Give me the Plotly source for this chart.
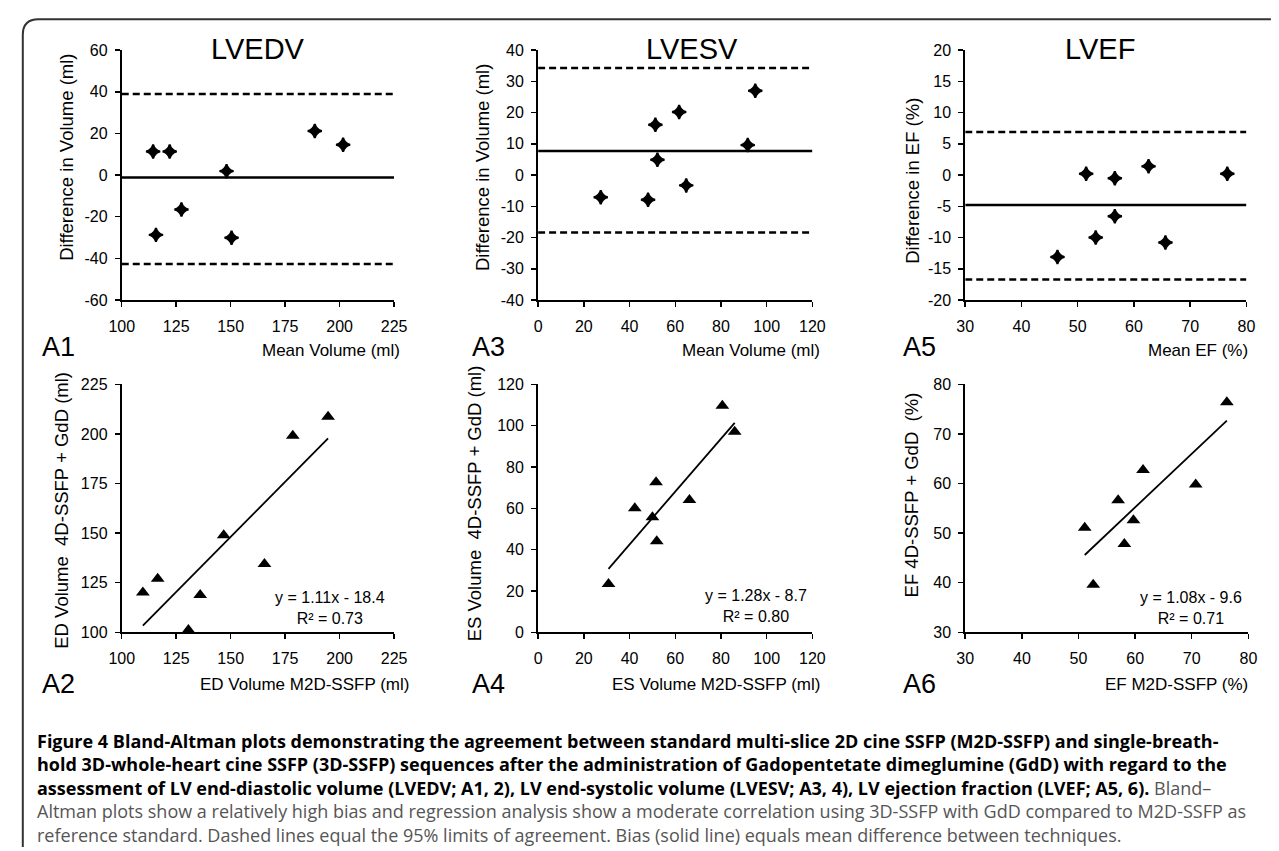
import plotly.graph_objects as go
from plotly.subplots import make_subplots

W, H = 1279, 851

# ---------------- data ----------------
# Bland-Altman: LVEDV
edv_mean = [114.4, 122.0, 115.7, 127.4, 148.1, 150.4, 188.6, 201.6]
edv_diff = [11.3, 11.3, -28.7, -16.5, 1.9, -30.1, 21.2, 14.6]
edv_limits = [-1.1, 38.9, -42.7]          # bias, upper, lower
# Bland-Altman: LVESV
esv_mean = [27.4, 48.1, 51.3, 52.2, 61.7, 64.8, 91.7, 95.0]
esv_diff = [-7.1, -7.9, 16.1, 4.9, 20.2, -3.3, 9.6, 27.0]
esv_limits = [7.7, 34.3, -18.4]
# Bland-Altman: LVEF
ef_mean = [46.4, 51.5, 53.2, 56.6, 56.6, 62.6, 65.6, 76.6]
ef_diff = [-13.1, 0.2, -10.0, -0.5, -6.6, 1.4, -10.8, 0.2]
ef_limits = [-4.8, 6.9, -16.7]

# Regression: M2D-SSFP (x) vs 4D-SSFP + GdD (y)
edv_m2d = [194.7, 178.5, 146.8, 165.5, 116.5, 109.7, 136.0, 130.6]
edv_4d = [208.7, 199.1, 148.9, 134.4, 127.0, 120.1, 118.8, 101.1]
esv_m2d = [80.6, 86.0, 51.6, 66.2, 42.3, 50.0, 51.9, 30.8]
esv_4d = [109.6, 97.0, 72.6, 64.0, 60.0, 55.7, 44.0, 23.4]
ef_m2d = [76.2, 61.4, 70.7, 57.0, 51.1, 59.7, 58.1, 52.6]
ef_4d = [76.4, 62.7, 59.8, 56.6, 51.1, 52.6, 47.8, 39.6]

slopes = [1.11, 1.28, 1.08]
intercepts = [-18.4, -8.7, -9.6]
r2 = [0.73, 0.80, 0.71]
eq_texts = ["y = 1.11x - 18.4<br>R² = 0.73", "y = 1.28x - 8.7<br>R² = 0.80",
            "y = 1.08x - 9.6<br>R² = 0.71"]

titles = ["LVEDV", "LVESV", "LVEF"]
panel_labels_top = ["A1", "A3", "A5"]
panel_labels_bot = ["A2", "A4", "A6"]
xtitles_top = ["Mean Volume (ml)", "Mean Volume (ml)", "Mean EF (%)"]
ytitles_top = ["Difference in Volume (ml)", "Difference in Volume (ml)", "Difference in EF (%)"]
xtitles_bot = ["ED Volume M2D-SSFP (ml)", "ES Volume M2D-SSFP (ml)", "EF M2D-SSFP (%)"]
ytitles_bot = ["ED Volume  4D-SSFP + GdD (ml)", "ES Volume  4D-SSFP + GdD (ml)", "EF 4D-SSFP + GdD  (%)"]

# axis ticks
top_xticks = [[100, 125, 150, 175, 200, 225], [0, 20, 40, 60, 80, 100, 120], [30, 40, 50, 60, 70, 80]]
top_yticks = [[-60, -40, -20, 0, 20, 40, 60], [-40, -30, -20, -10, 0, 10, 20, 30, 40],
              [-20, -15, -10, -5, 0, 5, 10, 15, 20]]
bot_xticks = [[100, 125, 150, 175, 200, 225], [0, 20, 40, 60, 80, 100, 120], [30, 40, 50, 60, 70, 80]]
bot_yticks = [[100, 125, 150, 175, 200, 225], [0, 20, 40, 60, 80, 100, 120], [30, 40, 50, 60, 70, 80]]

GRAY = "#555555"
caption_lines = [
    "<b>Figure 4 Bland-Altman plots demonstrating the agreement between standard multi-slice 2D cine SSFP (M2D-SSFP) and single-breath-</b>",
    "<b>hold 3D-whole-heart cine SSFP (3D-SSFP) sequences after the administration of Gadopentetate dimeglumine (GdD) with regard to the</b>",
    "<b>assessment of LV end-diastolic volume (LVEDV; A1, 2), LV end-systolic volume (LVESV; A3, 4), LV ejection fraction (LVEF; A5, 6).</b>"
    f"<span style='color:{GRAY}'> Bland–</span>",
    f"<span style='color:{GRAY}'>Altman plots show a relatively high bias and regression analysis show a moderate correlation using 3D-SSFP with GdD compared to M2D-SSFP as</span>",
    f"<span style='color:{GRAY}'>reference standard. Dashed lines equal the 95% limits of agreement. Bias (solid line) equals mean difference between techniques.</span>",
]

# ---------------- layout geometry (pixels) ----------------
px_x_top = [(111, 389), (536, 816), (972, 1259)]
px_x_bot = [(111, 389), (536, 816), (972, 1261)]
px_y_top = (43, 298)
px_y_bot = (384, 637)


def fx(p):
    return p / W


def fy(p):
    return 1 - p / H


FONT = "Liberation Sans, Arial, sans-serif"

fig = make_subplots(rows=2, cols=3)

ba_x = [edv_mean, esv_mean, ef_mean]
ba_y = [edv_diff, esv_diff, ef_diff]
ba_lim = [edv_limits, esv_limits, ef_limits]
rg_x = [edv_m2d, esv_m2d, ef_m2d]
rg_y = [edv_4d, esv_4d, ef_4d]

for i in range(3):
    col = i + 1
    xr = [top_xticks[i][0], top_xticks[i][-1]]
    bias, up, lo = ba_lim[i]
    # limits of agreement (dashed)
    for val in (up, lo):
        fig.add_trace(go.Scatter(x=xr, y=[val, val], mode="lines",
                                 line=dict(color="black", width=2.5, dash="7px,4px"),
                                 showlegend=False, hoverinfo="skip"), row=1, col=col)
    fig.add_trace(go.Scatter(x=xr, y=[bias, bias], mode="lines",
                             line=dict(color="black", width=2.5),
                             showlegend=False, hoverinfo="skip"), row=1, col=col)
    fig.add_trace(go.Scatter(x=ba_x[i], y=ba_y[i], mode="markers",
                             marker=dict(symbol="star-diamond", size=10, color="black",
                                         line=dict(width=2, color="black")),
                             cliponaxis=False, showlegend=False), row=1, col=col)
    # regression
    xmin, xmax = min(rg_x[i]), max(rg_x[i])
    fig.add_trace(go.Scatter(x=[xmin, xmax],
                             y=[slopes[i] * xmin + intercepts[i], slopes[i] * xmax + intercepts[i]],
                             mode="lines", line=dict(color="black", width=1.8),
                             showlegend=False, hoverinfo="skip"), row=2, col=col)
    fig.add_trace(go.Scatter(x=rg_x[i], y=rg_y[i], mode="markers",
                             marker=dict(symbol="triangle-up", size=12, color="black",
                                         line=dict(width=0)),
                             cliponaxis=False, showlegend=False), row=2, col=col)

axis_common = dict(showline=True, linecolor="black", linewidth=2, ticks="outside",
                   ticklen=5, tickwidth=1.5, tickcolor="black", showgrid=False,
                   zeroline=False, fixedrange=True,
                   tickfont=dict(family=FONT, size=16, color="black"))


def lab(v):
    return str(v)


for i in range(3):
    nt = i + 1
    nb = i + 4
    xt = top_xticks[i]
    yt = top_yticks[i]
    fig.layout["xaxis" + ("" if nt == 1 else str(nt))].update(
        domain=[fx(px_x_top[i][0]), fx(px_x_top[i][1])], range=[xt[0], xt[-1]],
        tickvals=xt, ticktext=[lab(v) for v in xt], ticklabelstandoff=6, **axis_common)
    fig.layout["yaxis" + ("" if nt == 1 else str(nt))].update(
        domain=[fy(px_y_top[1]), fy(px_y_top[0])], range=[yt[0], yt[-1]],
        tickvals=yt, ticktext=[lab(v) for v in yt], ticklabelstandoff=4, **axis_common)
    xb = bot_xticks[i]
    yb = bot_yticks[i]
    fig.layout["xaxis" + str(nb)].update(
        domain=[fx(px_x_bot[i][0]), fx(px_x_bot[i][1])], range=[xb[0], xb[-1]],
        tickvals=xb, ticktext=[lab(v) for v in xb], ticklabelstandoff=6, **axis_common)
    fig.layout["yaxis" + str(nb)].update(
        domain=[fy(px_y_bot[1]), fy(px_y_bot[0])], range=[yb[0], yb[-1]],
        tickvals=yb, ticktext=[lab(v) for v in yb], ticklabelstandoff=4, **axis_common)

ann = []


def add_text(text, x, y, size, xanchor="center", yanchor="middle", angle=0,
             family=FONT, color="black", align="center"):
    ann.append(dict(text=text, x=fx(x), y=fy(y), xref="paper", yref="paper",
                    xanchor=xanchor, yanchor=yanchor, showarrow=False, textangle=angle,
                    align=align, font=dict(family=family, size=size, color=color)))


title_x = [250, 693, 1110]
for i in range(3):
    add_text(titles[i], title_x[i], 42, 29)

# panel labels and x titles
lab_x = [28, 466, 906]
xt_right_top = [397, 826, 1263]
xt_right_bot = [406, 826, 1263]
for i in range(3):
    add_text(panel_labels_top[i], lab_x[i], 346, 27, xanchor="left")
    add_text(xtitles_top[i], xt_right_top[i], 349, 17, xanchor="right")
    add_text(panel_labels_bot[i], lab_x[i], 690, 27, xanchor="left")
    add_text(xtitles_bot[i], xt_right_bot[i], 690, 17, xanchor="right")

# y titles
yt_top_pos = [(55, 152), (480, 163), (918, 176)]
yt_bot_pos = [(50, 512), (472, 505), (917, 497)]
for i in range(3):
    add_text(ytitles_top[i], yt_top_pos[i][0], yt_top_pos[i][1], 18.5, angle=-90)
    add_text(ytitles_bot[i], yt_bot_pos[i][0], yt_bot_pos[i][1], 18.5, angle=-90)

# regression equations
eq_pos = [(324, 612), (758, 610), (1202, 612)]
for i in range(3):
    add_text(eq_texts[i], eq_pos[i][0], eq_pos[i][1], 16)

# caption (one text block)
add_text("<br>".join(caption_lines), 22, 796, 18, xanchor="left",
         family="Open Sans, Noto Sans, sans-serif", align="left", color="black")

fig.update_layout(annotations=ann)

# frame (rounded top-left corner)
x0, y0, r = fx(10), fy(11.5), 16
path = (f"M {x0},{fy(H + 5)} L {x0},{fy(11.5 + r)} "
        f"Q {x0},{y0} {fx(10 + r)},{y0} L {fx(W + 5)},{y0}")
fig.add_shape(type="path", path=path, xref="paper", yref="paper",
              line=dict(color="#333333", width=2))

fig.update_layout(width=W, height=H, margin=dict(l=0, r=0, t=0, b=0),
                  paper_bgcolor="white", plot_bgcolor="white", showlegend=False)

fig.write_html("out.html", config={"displayModeBar": False, "staticPlot": True},
               post_script="document.body.style.margin='0px';")
